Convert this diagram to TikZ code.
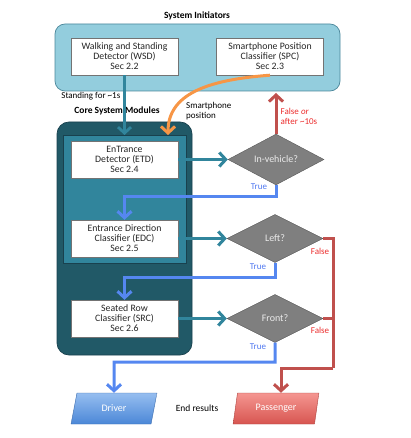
\documentclass[tikz,border=0pt]{standalone}
\usepackage{fontspec}
\setmainfont{Carlito}
\usetikzlibrary{arrows.meta,shapes.geometric}
\definecolor{initfill}{RGB}{147,205,221}
\definecolor{initedge}{RGB}{75,135,155}
\definecolor{coredark}{RGB}{33,89,103}
\definecolor{coreedge}{RGB}{25,65,78}
\definecolor{coremid}{RGB}{49,133,156}
\definecolor{arrowteal}{RGB}{49,133,156}
\definecolor{trueblue}{RGB}{85,135,240}
\definecolor{truetext}{RGB}{80,120,240}
\definecolor{falsered}{RGB}{192,80,77}
\definecolor{falsetext}{RGB}{235,45,45}
\definecolor{diafill}{RGB}{127,127,127}
\definecolor{diaedge}{RGB}{89,89,89}
\definecolor{orangeline}{RGB}{247,150,70}
\definecolor{drvtop}{RGB}{150,190,240}
\definecolor{drvbot}{RGB}{75,135,215}
\definecolor{pastop}{RGB}{245,150,145}
\definecolor{pasbot}{RGB}{215,85,80}
\tikzset{
  modbox/.style={draw=black!55, fill=white, minimum width=107pt, minimum height=37pt,
    align=center, inner sep=1pt, text=black!85, font=\fontsize{9.8}{10}\selectfont},
  decide/.style={diamond, draw=diaedge, fill=diafill, minimum width=96pt, minimum height=48pt,
    inner sep=0pt, text=white!92!black, font=\fontsize{10}{11}\selectfont},
  result/.style={trapezium, trapezium left angle=74, trapezium right angle=106,
    trapezium stretches=true, minimum width=86pt, minimum height=31pt, inner sep=0pt,
    text=white, font=\fontsize{10}{11}\selectfont},
  lbl/.style={inner sep=0pt, font=\fontsize{9}{10}\selectfont},
  ttl/.style={inner sep=0pt, font=\bfseries\fontsize{9.5}{11}\selectfont},
  conn/.style={line width=3pt, -{Straight Barb[length=6.5pt,width=14pt]}},
  tealconn/.style={conn, draw=arrowteal},
  blueconn/.style={conn, draw=trueblue},
  redconn/.style={conn, draw=falsered},
  redline/.style={line width=3pt, draw=falsered},
  orangeconn/.style={conn, draw=orangeline}
}
\begin{document}
\begin{tikzpicture}[x=1pt,y=-1pt]
\useasboundingbox (0,0) rectangle (411,438);
% containers
\node[ttl] (inittitle) at (197,16) {System Initiators};
\draw[fill=initfill, draw=initedge, line width=0.7pt, rounded corners=10pt] (55,24) rectangle (340,91);
\node[ttl] (coretitle) at (117,111) {Core System Modules};
\draw[fill=coredark, draw=coreedge, line width=0.7pt, rounded corners=12pt] (57,122) rectangle (192,355);
\draw[fill=coremid, draw=coreedge, line width=0.6pt] (63,135) rectangle (186,263);
% modules
\node[modbox] (wsd) at (124.5,56.5) {Walking and Standing\\Detector (WSD)\\Sec 2.2};
\node[modbox] (spc) at (270,56.5) {Smartphone Position\\Classifier (SPC)\\Sec 2.3};
\node[modbox] (etd) at (124.5,159.5) {EnTrance\\Detector (ETD)\\Sec 2.4};
\node[modbox] (edc) at (124.5,238.5) {Entrance Direction\\Classifier (EDC)\\Sec 2.5};
\node[modbox] (src) at (124.5,318.5) {Seated Row\\Classifier (SRC)\\Sec 2.6};
% decisions
\node[decide] (inveh) at (276,159.5) {In-vehicle?};
\node[decide] (left) at (275,238.5) {Left?};
\node[decide] (front) at (275,318.5) {Front?};
% results
\node[result, shade, top color=drvtop, bottom color=drvbot, draw=drvbot!80!black, line width=0.4pt] (driver) at (114,408.5) {Driver};
\node[result, shade, top color=pastop, bottom color=pasbot, draw=pasbot!80!black, line width=0.4pt] (passenger) at (276,408.5) {Passenger};
\node[lbl, font=\fontsize{9.5}{10}\selectfont] (endres) at (197,408.5) {End results};
% coordinates
\coordinate (wsdend) at (124.5,135);
\coordinate (spcend) at (168,135);
\coordinate (redtop) at (276,93);
\coordinate (t1) at (124.5,196);
\coordinate (t2) at (124.5,277);
\coordinate (t3) at (114,362);
\coordinate (f1) at (333,238.5);
\coordinate (f2) at (333,368);
\coordinate (f3) at (281,368);
\coordinate (f4) at (333,318.5);
% initiator connectors
\draw[line width=2.8pt, draw=arrowteal, -{Straight Barb[length=6pt,width=13pt]}] (wsd.south) -- (wsdend);
\node[lbl, anchor=east] (standlbl) at (120.5,96) {Standing for \textasciitilde1s};
\draw[orangeconn] (spc.south) .. controls (205,80) and (168,95) .. (spcend);
\node[lbl, align=left, anchor=north west] (smartlbl) at (186,102) {Smartphone\\position};
% module -> decision
\draw[tealconn] (etd.east) -- (inveh.west);
\draw[tealconn] (edc.east) -- (left.west);
\draw[tealconn] (src.east) -- (front.west);
% false / timeout
\draw[redconn] (inveh.north) -- (redtop);
\node[lbl, align=left, anchor=north west, text=falsetext] (falselbl) at (280.5,108.5) {False \textit{or}\\after \textasciitilde10s};
% true paths
\draw[blueconn] (inveh.south) |- (t1) -- (edc.north);
\node[lbl, text=truetext] (true1) at (259,187) {True};
\draw[blueconn] (left.south) |- (t2) -- (src.north);
\node[lbl, text=truetext] (true2) at (258,267) {True};
\draw[blueconn] (front.south) |- (t3) -- (driver.north);
\node[lbl, text=truetext] (true3) at (258,347) {True};
% false paths
\draw[redline] (left.east) -- (f1) -- (f2);
\draw[redline] (front.east) -- (f4);
\draw[redconn] (f2) -- (f3) -- (f3 |- passenger.north);
\node[lbl, text=falsetext] (false1) at (320,251) {False};
\node[lbl, text=falsetext] (false2) at (320,330) {False};
\end{tikzpicture}
\end{document}
